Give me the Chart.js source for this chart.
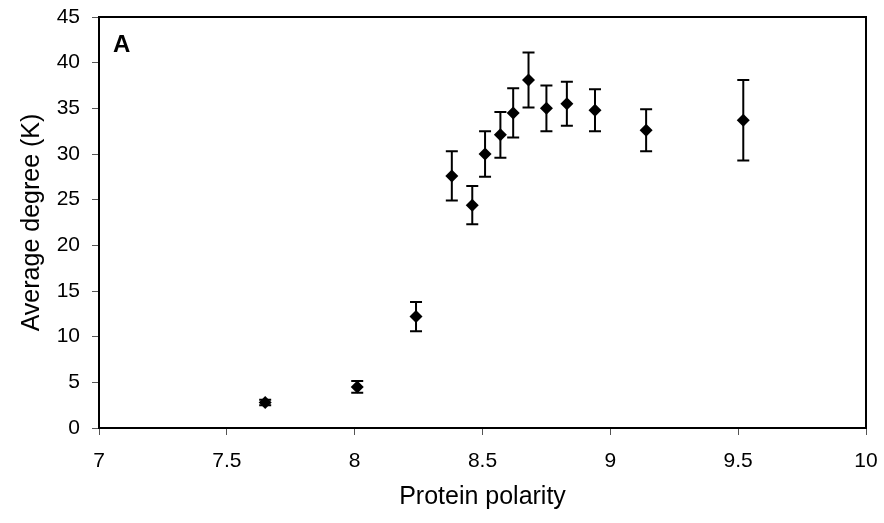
<!DOCTYPE html>
<html>
<head>
<meta charset="utf-8">
<script src="https://cdn.jsdelivr.net/npm/chart.js@4/dist/chart.umd.min.js"></script>
<style>
  html, body { margin: 0; padding: 0; background: #fff; }
  #wrap { width: 884px; height: 523px; }
</style>
</head>
<body>
<div id="wrap"><canvas id="chart"></canvas></div>
<script>
// Values
const polarity = [7.65, 8.01, 8.24, 8.38, 8.46, 8.51, 8.57, 8.62, 8.68, 8.75, 8.83, 8.94, 9.14, 9.52];
const avgDegree = [2.8, 4.5, 12.2, 27.6, 24.4, 30.0, 32.1, 34.5, 38.1, 35.0, 35.5, 34.8, 32.6, 33.7];
const errDegree = [0.3, 0.65, 1.6, 2.7, 2.1, 2.5, 2.5, 2.7, 3.0, 2.5, 2.4, 2.3, 2.3, 4.4];

const xTicks = [7, 7.5, 8, 8.5, 9, 9.5, 10];
const yTicks = [0, 5, 10, 15, 20, 25, 30, 35, 40, 45];
const panelLabel = 'A';

const FONT = '"Liberation Sans", Arial, sans-serif';

// Draws the error bars (before the points) and the frame + panel letter
const errorBarPlugin = {
    id: 'errorBars',
    beforeDatasetsDraw(chart) {
        const { ctx, scales: { x, y } } = chart;
        ctx.save();
        ctx.strokeStyle = '#000';
        ctx.lineWidth = 2;
        polarity.forEach((px, i) => {
            const cx = x.getPixelForValue(px);
            const top = y.getPixelForValue(avgDegree[i] + errDegree[i]);
            const bot = y.getPixelForValue(avgDegree[i] - errDegree[i]);
            ctx.beginPath();
            ctx.moveTo(cx, top); ctx.lineTo(cx, bot);
            ctx.moveTo(cx - 6, top); ctx.lineTo(cx + 6, top);
            ctx.moveTo(cx - 6, bot); ctx.lineTo(cx + 6, bot);
            ctx.stroke();
        });
        ctx.restore();
    },
    afterDraw(chart) {
        const { ctx, chartArea: a } = chart;
        ctx.save();
        ctx.strokeStyle = '#000';
        ctx.lineWidth = 2;
        ctx.strokeRect(a.left, a.top, a.right - a.left, a.bottom - a.top);
        ctx.fillStyle = '#000';
        ctx.font = 'bold 24px ' + FONT;
        ctx.textBaseline = 'alphabetic';
        ctx.fillText(panelLabel, a.left + 14, a.top + 35);
        ctx.restore();
    }
};

const ctx = document.getElementById('chart').getContext('2d');
new Chart(ctx, {
    type: 'scatter',
    data: {
        datasets: [{
            data: polarity.map((p, i) => ({ x: p, y: avgDegree[i] })),
            pointStyle: 'rectRot',
            pointRadius: 6.5,
            backgroundColor: '#000',
            borderColor: '#000',
            borderWidth: 0
        }]
    },
    options: {
        responsive: true,
        maintainAspectRatio: false,
        animation: false,
        layout: { padding: { left: 0, right: 18, top: 17, bottom: 0 } },
        plugins: { legend: { display: false }, tooltip: { enabled: false } },
        scales: {
            x: {
                type: 'linear', min: 7, max: 10,
                afterBuildTicks: axis => { axis.ticks = xTicks.map(v => ({ value: v })); },
                afterFit: axis => { axis.height = 95; axis.paddingLeft = 0; axis.paddingRight = 0; },
                grid: { drawOnChartArea: false, drawTicks: true, tickLength: 7, color: '#555', lineWidth: 1 },
                border: { display: true, color: '#000', width: 2 },
                ticks: { color: '#000', font: { family: FONT, size: 21 }, padding: 14, maxRotation: 0, callback: v => String(v) },
                title: { display: true, text: 'Protein polarity', color: '#000', font: { family: FONT, size: 25 }, padding: { top: 0, bottom: 11 } }
            },
            y: {
                type: 'linear', min: 0, max: 45,
                afterBuildTicks: axis => { axis.ticks = yTicks.map(v => ({ value: v })); },
                afterFit: axis => { axis.width = 99; axis.paddingTop = 0; axis.paddingBottom = 0; },
                grid: { drawOnChartArea: false, drawTicks: true, tickLength: 7, color: '#555', lineWidth: 1 },
                border: { display: true, color: '#000', width: 2 },
                ticks: { color: '#000', font: { family: FONT, size: 21 }, padding: 12, callback: v => String(v) },
                title: { display: true, text: 'Average degree (K)', color: '#000', font: { family: FONT, size: 25 }, padding: { top: 17, bottom: 0 } }
            }
        }
    },
    plugins: [errorBarPlugin]
});
</script>
</body>
</html>
